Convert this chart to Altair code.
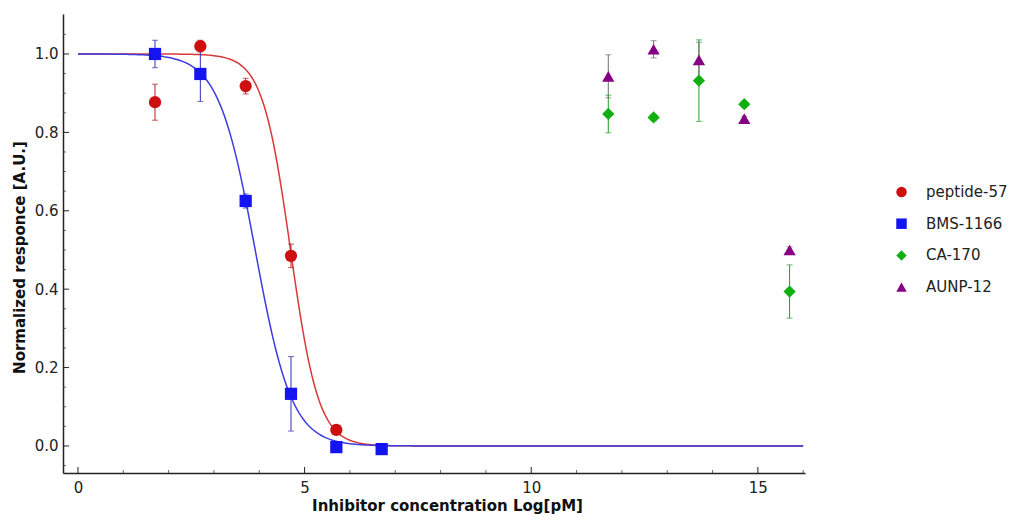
import altair as alt
import pandas as pd

# ---------------- data ----------------
series_names = ["peptide-57", "BMS-1166", "CA-170", "AUNP-12"]
series_colors = ["#cc1010", "#1414f0", "#10b010", "#860086"]
series_err_colors = ["#b02020", "#3030b0", "#20a020", "#707070"]
series_shapes = ["circle", "square", "diamond", "triangle-up"]

pep_x = [1.7, 2.7, 3.7, 4.7, 5.7]
pep_y = [0.877, 1.020, 0.918, 0.485, 0.041]
pep_err = [0.046, 0.015, 0.020, 0.030, 0.008]

bms_x = [1.7, 2.7, 3.7, 4.7, 5.7, 6.7]
bms_y = [1.000, 0.949, 0.625, 0.133, -0.003, -0.008]
bms_err = [0.035, 0.070, 0.018, 0.095, 0.006, 0.006]

ca_x = [11.7, 12.7, 13.7, 14.7, 15.7]
ca_y = [0.847, 0.838, 0.932, 0.872, 0.394]
ca_err = [0.048, 0.008, 0.104, 0.008, 0.068]

aunp_x = [11.7, 12.7, 13.7, 14.7, 15.7]
aunp_y = [0.943, 1.012, 0.985, 0.835, 0.500]
aunp_err = [0.055, 0.022, 0.045, 0.006, 0.008]

# dose-response fit parameters (logIC50, Hill slope)
fit_names = ["peptide-57", "BMS-1166"]
fit_log_ic50 = [4.69, 3.91]
fit_hill = [1.40, 1.07]
fit_colors = ["#d83838", "#3c3ce0"]
fit_range = [0.0, 16.0]

x_major = [0, 5, 10, 15]
x_minor = [1, 2, 3, 4, 6, 7, 8, 9, 11, 12, 13, 14, 16]
y_major = [0.0, 0.2, 0.4, 0.6, 0.8, 1.0]
y_minor = [-0.05, 0.05, 0.1, 0.15, 0.25, 0.3, 0.35, 0.45, 0.5, 0.55,
           0.65, 0.7, 0.75, 0.85, 0.9, 0.95, 1.05]

x_domain = [-0.33, 16.04]
y_domain = [-0.069, 1.102]

# ---------------- build tables ----------------
rows = []
for name, xs_, ys_, es_ in [
    ("peptide-57", pep_x, pep_y, pep_err),
    ("BMS-1166", bms_x, bms_y, bms_err),
    ("CA-170", ca_x, ca_y, ca_err),
    ("AUNP-12", aunp_x, aunp_y, aunp_err),
]:
    ec = series_err_colors[series_names.index(name)]
    for x, y, e in zip(xs_, ys_, es_):
        rows.append({"series": name, "x": x, "y": y, "lo": y - e, "hi": y + e, "ecol": ec})
df = pd.DataFrame(rows)

W, H = 742, 459
FONT = "DejaVu Sans"

xs = alt.Scale(domain=x_domain, nice=False, zero=False)
ys = alt.Scale(domain=y_domain, nice=False, zero=False)

base = alt.Chart(df)

err_rule = base.mark_rule(strokeWidth=1).encode(
    x=alt.X("x:Q", scale=xs),
    y=alt.Y("lo:Q", scale=ys),
    y2="hi:Q",
    color=alt.Color("ecol:N", scale=None),
)
err_cap_hi = base.mark_tick(orient="horizontal", size=6, thickness=1).encode(
    x=alt.X("x:Q", scale=xs),
    y=alt.Y("hi:Q", scale=ys),
    color=alt.Color("ecol:N", scale=None),
)
err_cap_lo = base.mark_tick(orient="horizontal", size=6, thickness=1).encode(
    x=alt.X("x:Q", scale=xs),
    y=alt.Y("lo:Q", scale=ys),
    color=alt.Color("ecol:N", scale=None),
)

curves = []
for name, ic, h, col in zip(fit_names, fit_log_ic50, fit_hill, fit_colors):
    c = (
        alt.Chart(alt.sequence(fit_range[0], fit_range[1] + 0.001, 0.04, as_="x"))
        .transform_calculate(y=f"1/(1+pow(10,(datum.x-({ic}))*({h})))")
        .mark_line(strokeWidth=1.5, color=col, clip=True)
        .encode(x=alt.X("x:Q", scale=xs), y=alt.Y("y:Q", scale=ys))
    )
    curves.append(c)

points = base.mark_point(filled=True, opacity=1, size=150, strokeWidth=0).encode(
    x=alt.X(
        "x:Q",
        scale=xs,
        axis=alt.Axis(
            values=x_major,
            title="Inhibitor concentration Log[pM]",
            ticks=False,
            grid=False,
            labelPadding=7,
            titleBaseline="alphabetic",
            titleX=384,
            titleY=37,
        ),
    ),
    y=alt.Y(
        "y:Q",
        scale=ys,
        axis=alt.Axis(
            values=y_major,
            format=".1f",
            title="Normalized responce [A.U.]",
            ticks=False,
            grid=False,
            labelPadding=5,
            titlePadding=7,
            titleY=243,
        ),
    ),
    color=alt.Color(
        "series:N",
        scale=alt.Scale(domain=series_names, range=series_colors),
        legend=alt.Legend(title=None),
    ),
    shape=alt.Shape(
        "series:N",
        scale=alt.Scale(domain=series_names, range=series_shapes),
        legend=alt.Legend(title=None),
    ),
)

# inward tick marks (frame-style)
xt_major = alt.Chart(pd.DataFrame({"t": x_major})).mark_rule(color="#222", strokeWidth=1).encode(
    x=alt.X("t:Q", scale=xs), y=alt.value(H), y2=alt.value(H - 6)
)
xt_minor = alt.Chart(pd.DataFrame({"t": x_minor})).mark_rule(color="#444", strokeWidth=0.8).encode(
    x=alt.X("t:Q", scale=xs), y=alt.value(H), y2=alt.value(H - 3)
)
yt_major = alt.Chart(pd.DataFrame({"t": y_major})).mark_rule(color="#222", strokeWidth=1).encode(
    y=alt.Y("t:Q", scale=ys), x=alt.value(0), x2=alt.value(6)
)
yt_minor = alt.Chart(pd.DataFrame({"t": y_minor})).mark_rule(color="#444", strokeWidth=0.8).encode(
    y=alt.Y("t:Q", scale=ys), x=alt.value(0), x2=alt.value(3)
)

chart = (
    alt.layer(xt_minor, xt_major, yt_minor, yt_major, *curves, err_rule, err_cap_hi, err_cap_lo, points)
    .properties(
        width=W,
        height=H,
        autosize=alt.AutoSizeParams(type="none"),
        padding={"left": 55, "top": 6, "right": 207, "bottom": 42},
    )
    .configure(font=FONT, background="white")
    .configure_view(stroke=None)
    .configure_axis(
        labelFont=FONT,
        titleFont=FONT,
        labelFontSize=15,
        titleFontSize=15,
        titleFontWeight="bold",
        labelColor="#222",
        titleColor="#111",
        domainColor="#222",
        domainWidth=1.5,
    )
    .configure_legend(
        orient="none",
        legendX=831,
        legendY=170.5,
        padding=0,
        labelFont=FONT,
        labelFontSize=15,
        labelColor="#222",
        symbolSize=110,
        symbolStrokeWidth=0,
        symbolOpacity=1,
        labelOffset=17,
        rowPadding=15.7,
        labelLimit=400,
    )
)

chart.save("out.html", embed_options={"renderer": "svg", "actions": False})
